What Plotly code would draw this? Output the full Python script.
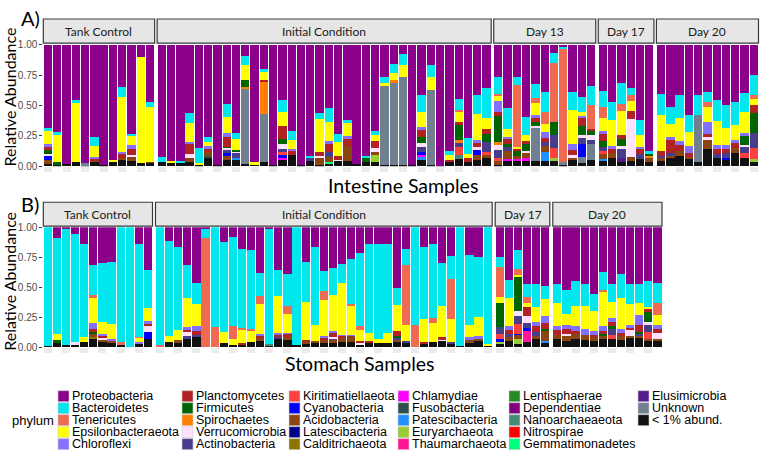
import plotly.graph_objects as go

W, H = 760, 455

# ---------------- phyla (legend order = top of stack first) ----------------
PHYLA = ["Proteobacteria", "Bacteroidetes", "Tenericutes", "Epsilonbacteraeota", "Chloroflexi",
         "Planctomycetes", "Firmicutes", "Spirochaetes", "Verrucomicrobia", "Actinobacteria",
         "Kiritimatiellaeota", "Cyanobacteria", "Acidobacteria", "Latescibacteria", "Calditrichaeota",
         "Chlamydiae", "Fusobacteria", "Patescibacteria", "Euryarchaeota", "Thaumarchaeota",
         "Lentisphaerae", "Dependentiae", "Nanoarchaeaeota", "Nitrospirae", "Gemmatimonadetes",
         "Elusimicrobia", "Unknown", "< 1% abund."]
CODES = ["Pro", "Bac", "Ten", "Eps", "Chl", "Pla", "Fir", "Spi", "Ver", "Act",
         "Kir", "Cya", "Aci", "Lat", "Cal", "Cly", "Fus", "Pat", "Eur", "Tha",
         "Len", "Dep", "Nan", "Nit", "Gem", "Elu", "Unk", "Low"]
COLORS = ["#8B008B", "#00E8EE", "#EE6A50", "#FFFF00", "#8470FF",
          "#B22222", "#006400", "#FF8000", "#FFE1FF", "#483D8B",
          "#FF4040", "#0000FF", "#8B4513", "#00008B", "#8B7500",
          "#FF00FF", "#2F4F4F", "#1E90FF", "#9ACD32", "#FF1493",
          "#228B22", "#800080", "#458B74", "#FF0000", "#00FF7F",
          "#551A8B", "#708090", "#111111"]

# ---------------- data: relative abundances per sample (Proteobacteria = remainder) ----------------
INT_TANK_CONTROL = [
    dict(Low=.02, Aci=.035, Cya=.036, Ver=.01, Fir=.03, Pla=.037, Chl=.015, Eps=.11, Bac=.024),
    dict(Low=.015, Fir=.02, Eps=.225, Bac=.02),
    dict(Low=.02),
    dict(Low=.035, Eps=.495, Bac=.015),
    dict(Low=.012, Unk=.013),
    dict(Low=.04, Aci=.005, Pla=.022, Chl=.008, Eps=.091, Bac=.075),
    dict(Low=.015),
    dict(Low=.035, Eps=.02),
    dict(Low=.054, Aci=.018, Pla=.035, Chl=.008, Eps=.456, Bac=.08),
    dict(Low=.046, Aci=.034, Pla=.046, Ver=.016, Chl=.032, Eps=.075, Bac=.019),
    dict(Low=.024, Eps=.874),
    dict(Low=.032, Aci=.008, Eps=.45, Bac=.038),
]
INT_INITIAL = [
    dict(Low=.035, Bac=.045),
    dict(Low=.035, Eps=.012),
    dict(Low=.03, Bac=.017),
    dict(Low=.04, Aci=.032, Ver=.028, Pla=.09, Chl=.01, Eps=.16, Bac=.077),
    dict(Low=.013, Eps=.014, Bac=.128),
    dict(Low=.072, Aci=.033, Fus=.015, Pla=.027, Chl=.022, Eps=.031, Bac=.041),
    dict(Low=.013),
    dict(Low=.054, Cya=.018, Aci=.035, Act=.027, Ver=.019, Fir=.008, Pla=.08, Chl=.032, Eps=.137, Bac=.099),
    dict(Low=.054, Pat=.013, Act=.048, Ver=.011, Fir=.008, Eps=.089, Bac=.05),
    dict(Low=.019, Unk=.619, Spi=.019, Fir=.053, Eps=.126, Bac=.07),
    dict(Low=.019, Eps=.013),
    dict(Low=.04, Unk=.389, Spi=.268, Pla=.013, Eps=.073, Bac=.016),
    dict(Low=.013),
    dict(Low=.054, Cly=.013, Act=.027, Cya=.026, Kir=.027, Ver=.033, Fir=.043, Pla=.107, Eps=.12, Bac=.1),
    dict(Low=.094, Pla=.04, Chl=.013, Eps=.067, Bac=.073),
    dict(Low=.013),
    dict(Low=.046, Act=.021, Bac=.021),
    dict(Low=.013, Aci=.062, Ver=.013, Pla=.032, Eps=.269, Bac=.053),
    dict(Low=.027, Gem=.013, Aci=.04, Act=.035, Pla=.073, Chl=.021, Eps=.158, Bac=.116),
    dict(Low=.046, Ver=.008, Pla=.034, Eps=.112, Bac=.068),
    dict(Low=.046, Aci=.123, Pla=.059, Chl=.019, Eps=.107, Bac=.029),
    dict(Low=.019),
    dict(Low=.04, Fir=.027, Bac=.021),
    dict(Low=.04, Eur=.059, Aci=.016, Ver=.038, Pla=.056, Eps=.046, Bac=.032),
    dict(Low=.013, Unk=.652, Eps=.024, Bac=.048),
    dict(Low=.013, Unk=.671, Spi=.026, Eps=.054, Bac=.075),
    dict(Low=.013, Unk=.724, Eps=.099, Bac=.089),
    dict(Low=.013),
    dict(Low=.054, Cya=.026, Pat=.019, Cly=.022, Act=.04, Ver=.032, Fir=.048, Pla=.062, Chl=.019, Eps=.128, Bac=.14),
    dict(Low=.013, Unk=.617, Eps=.107, Bac=.094),
    dict(Low=.005),
    dict(Low=.035, Pla=.019, Eps=.04, Bac=.032),
    dict(Low=.059, Nan=.035, Kir=.067, Act=.04, Spi=.013, Fir=.134, Pla=.014, Eps=.088, Ten=.014, Bac=.091),
    dict(Low=.04, Pla=.027, Eps=.032, Bac=.134),
    dict(Low=.054, Aci=.04, Cya=.048, Ver=.014, Pla=.04, Chl=.018, Eps=.22, Bac=.156),
    dict(Low=.067, Aci=.027, Kir=.027, Act=.08, Fir=.062, Pla=.045, Eps=.094, Bac=.241),
]
INT_DAY13 = [
    dict(Low=.01, Aci=.041, Kir=.016, Act=.064, Ver=.054, Spi=.016, Fir=.212, Pla=.035, Chl=.086, Eps=.042, Ten=.019, Bac=.14),
    dict(Low=.051, Aci=.062, Cly=.013, Act=.032, Fir=.022, Pla=.053, Chl=.011, Eps=.064, Bac=.172),
    dict(Low=.046, Aci=.026, Cly=.014, Fir=.04, Pla=.021, Eps=.011, Ten=.512, Bac=.067),
    dict(Low=.051, Aci=.048, Cly=.014, Ver=.013, Fir=.054, Pla=.032, Eps=.043, Bac=.153),
    dict(Low=.046, Unk=.278, Ver=.011, Fir=.032, Pla=.027, Chl=.032, Eps=.097, Ten=.037, Bac=.116),
    dict(Low=.046, Pat=.075, Aci=.048, Act=.032, Pla=.032, Chl=.048, Eps=.065, Ten=.102, Bac=.166),
    dict(Low=.051, Eur=.016, Kir=.086, Act=.102, Fir=.107, Ten=.488, Bac=.086),
    dict(Low=.013, Unk=.019, Ten=.938, Bac=.014),
    dict(Low=.051, Aci=.027, Ver=.016, Pla=.037, Chl=.049, Eps=.281, Bac=.153),
    dict(Low=.03, Unk=.05, Cya=.1, Act=.06, Ver=.015, Fir=.08, Pla=.06, Chl=.02, Eps=.03, Bac=.125),
    dict(Low=.051, Unk=.129, Act=.04, Ver=.04, Fir=.027, Pla=.021, Ten=.199, Bac=.155),
]
INT_DAY17 = [
    dict(Low=.046, Pat=.013, Aci=.04, Kir=.027, Act=.032, Fir=.048, Pla=.059, Chl=.022, Eps=.107, Ten=.094, Bac=.134),
    dict(Low=.072, Aci=.041, Pla=.026, Chl=.027, Eps=.215, Bac=.147),
    dict(Low=.032, Elu=.04, Act=.067, Ver=.027, Fir=.059, Pla=.035, Eps=.193, Ten=.062, Bac=.169),
    dict(Low=.046, Aci=.032, Ver=.308, Pla=.067, Eps=.081, Ten=.053, Bac=.054),
    dict(Low=.059, Act=.04, Pla=.04, Chl=.019, Eps=.097, Bac=.126),
    dict(Low=.04, Aci=.027, Spi=.019, Fir=.019, Bac=.021),
]
INT_DAY20 = [
    dict(Low=.046, Aci=.026, Act=.014, Pla=.04, Eps=.3, Bac=.169),
    dict(Low=.072, Aci=.014, Act=.027, Pla=.107, Chl=.021, Eps=.108, Bac=.139),
    dict(Low=.086, Aci=.04, Pla=.048, Chl=.038, Eps=.188, Bac=.187),
    dict(Low=.059, Aci=.019, Pla=.035, Chl=.053, Eps=.116, Bac=.139),
    dict(Low=.032, Unk=.389, Bac=.166),
    dict(Low=.139, Aci=.086, Ver=.014, Pla=.029, Chl=.099, Eps=.121, Ten=.04, Bac=.081),
    dict(Low=.072, Act=.033, Pla=.034, Chl=.035, Eps=.199, Bac=.177),
    dict(Low=.051, Cya=.021, Act=.041, Pla=.032, Chl=.029, Eps=.145, Bac=.188),
    dict(Low=.113, Aci=.04, Pla=.04, Chl=.027, Eps=.12, Bac=.188),
    dict(Low=.067, Kir=.046, Act=.054, Ver=.011, Fir=.075, Chl=.022, Eps=.171, Bac=.156),
    dict(Low=.04, Eur=.019, Kir=.094, Act=.12, Fir=.169, Pla=.059, Eps=.054, Ten=.032, Bac=.161),
]
STO_TANK_CONTROL = [
    dict(Low=.014, Bac=.986),
    dict(Low=.033, Fir=.027, Eps=.049, Bac=.801),
    dict(Low=.02, Bac=.964),
    dict(Low=.019, Ver=.022, Bac=.905),
    dict(Low=.041, Eps=.049, Bac=.771),
    dict(Low=.068, Cal=.02, Aci=.021, Fir=.019, Pla=.021, Chl=.055, Eps=.209, Ten=.022, Bac=.253),
    dict(Low=.046, Aci=.02, Ver=.01, Chl=.01, Pla=.023, Eps=.105, Bac=.49),
    dict(Low=.04, Aci=.014, Chl=.014, Eps=.128, Bac=.511),
    dict(Low=.019, Ten=.022, Bac=.959),
    dict(Low=.005, Bac=.995),
    dict(Low=.033, Chl=.008, Eps=.041, Ten=.008, Bac=.771),
    dict(Low=.073, Cya=.055, Ver=.049, Pla=.021, Chl=.019, Eps=.109, Bac=.321),
]
STO_INITIAL = [
    dict(Ten=.019, Bac=.981),
    dict(Low=.043, Eps=.055, Bac=.791),
    dict(Low=.038, Aci=.022, Eps=.087, Bac=.693),
    dict(Low=.071, Act=.021, Ver=.033, Pla=.022, Chl=.021, Eps=.242, Bac=.275),
    dict(Low=.087, Act=.019, Pla=.033, Chl=.035, Eps=.19, Bac=.169),
    dict(Low=.004, Ten=.909, Bac=.071),
    dict(Ten=.168, Bac=.832),
    dict(Low=.033, Eps=.092, Bac=.755),
    dict(Low=.022, Eps=.051, Ten=.101, Bac=.747),
    dict(Low=.024, Pla=.014, Eps=.109, Ten=.013, Bac=.661),
    dict(Low=.043, Eps=.09, Ten=.019, Bac=.658),
    dict(Low=.052, Aci=.027, Pla=.019, Chl=.016, Eps=.25, Ten=.065, Bac=.188),
    dict(Low=.016, Nan=.008, Bac=.96),
    dict(Low=.071, Act=.016, Pla=.016, Chl=.017, Eps=.304, Bac=.22),
    dict(Low=.065, Aci=.022, Pla=.025, Chl=.008, Eps=.157, Ten=.065, Bac=.267),
    dict(Low=.022, Bac=.978),
    dict(Low=.027, Aci=.016, Pla=.017, Eps=.318, Bac=.334),
    dict(Low=.033, Aci=.019, Eps=.136, Bac=.649),
    dict(Low=.038, Aci=.022, Pla=.019, Chl=.019, Eps=.299, Ten=.076, Bac=.163),
    dict(Low=.038, Aci=.022, Act=.013, Ver=.014, Pla=.033, Chl=.019, Eps=.301, Bac=.223),
    dict(Low=.043, Aci=.033, Pla=.016, Chl=.014, Eps=.429, Bac=.161),
    dict(Low=.043, Aci=.049, Chl=.014, Eps=.242, Ten=.016, Bac=.375),
    dict(Low=.022, Ver=.011, Pla=.019, Eps=.089, Ten=.038, Bac=.606),
    dict(Low=.038, Pla=.014, Eps=.068, Bac=.741),
    dict(Low=.038, Eps=.033, Bac=.79),
    dict(Low=.038, Eps=.082, Bac=.741),
    dict(Low=.043, Aci=.017, Act=.019, Fir=.013, Pla=.047, Eps=.212, Bac=.144),
    dict(Low=.038, Act=.014, Eps=.136, Ten=.502, Bac=.131),
    dict(Ten=.1875, Bac=.8125),
    dict(Low=.027, Pla=.016, Eps=.193, Bac=.598),
    dict(Low=.043, Eps=.158, Ten=.046, Bac=.614),
    dict(Low=.052, Ver=.013, Pla=.022, Eps=.255, Bac=.362),
    dict(Low=.033, Act=.01, Eps=.193, Ten=.337, Bac=.191),
    dict(Low=.011, Bac=.989),
    dict(Low=.038, Aci=.022, Chl=.024, Eps=.101, Bac=.581),
    dict(Low=.049, Aci=.022, Chl=.027, Eps=.157, Bac=.498),
    dict(Low=.016, Eps=.008, Bac=.976),
]
STO_DAY17 = [
    dict(Low=.027, Eur=.019, Cya=.022, Kir=.041, Act=.059, Fir=.204, Eps=.044, Ten=.255, Bac=.082),
    dict(Low=.054, Aci=.033, Act=.022, Pla=.032, Chl=.036, Eps=.231, Bac=.149),
    dict(Low=.027, Eur=.041, Aci=.032, Cya=.014, Kir=.084, Act=.066, Ver=.04, Fir=.286, Eps=.013, Ten=.049, Bac=.155),
    dict(Low=.041, Tha=.095, Cya=.027, Act=.041, Ver=.06, Pla=.076, Eps=.032, Ten=.049, Bac=.103),
    dict(Low=.068, Aci=.027, Act=.033, Pla=.049, Chl=.032, Eps=.131, Bac=.19),
    dict(Low=.041, Pat=.013, Aci=.082, Fir=.013, Pla=.055, Chl=.054, Eps=.142, Bac=.108),
]
STO_DAY20 = [
    dict(Low=.068, Aci=.033, Pla=.043, Chl=.033, Eps=.195, Bac=.158),
    dict(Low=.054, Aci=.041, Ver=.014, Pla=.04, Chl=.033, Eps=.095, Bac=.199),
    dict(Low=.068, Aci=.041, Pla=.027, Chl=.041, Eps=.171, Bac=.204),
    dict(Low=.06, Aci=.041, Chl=.054, Eps=.19, Bac=.185),
    dict(Low=.054, Aci=.036, Pla=.011, Chl=.035, Eps=.163, Bac=.149),
    dict(Low=.068, Aci=.027, Fir=.014, Pla=.027, Chl=.041, Eps=.282, Ten=.022, Bac=.149),
    dict(Low=.068, Kir=.033, Act=.048, Fir=.03, Pla=.03, Chl=.036, Eps=.13, Bac=.149),
    dict(Low=.063, Aci=.032, Pla=.027, Chl=.027, Eps=.264, Bac=.198),
    dict(Low=.075, Aci=.02, Ver=.046, Pla=.022, Chl=.027, Eps=.169, Bac=.165),
    dict(Low=.08, Aci=.015, Act=.014, Fir=.019, Pla=.062, Chl=.082, Eps=.095, Bac=.163),
    dict(Low=.054, Aci=.014, Kir=.06, Act=.062, Ver=.019, Fir=.082, Pla=.027, Eps=.022, Bac=.209),
    dict(Low=.054, Aci=.019, Ver=.049, Pla=.027, Chl=.041, Eps=.082, Ten=.1, Bac=.163),
]

Y_TICKS = [0, 0.25, 0.5, 0.75, 1.0]
Y_TICK_TEXT = ["0.00", "0.25", "0.50", "0.75", "1.00"]

# ---------------- layout geometry (pixels) ----------------
PANELS = [
    dict(label="A)", title="Intestine Samples",
         facets=[("Tank Control", INT_TANK_CONTROL), ("Initial Condition", INT_INITIAL),
                 ("Day 13", INT_DAY13), ("Day 17", INT_DAY17), ("Day 20", INT_DAY20)],
         left=43.3, right=758.5, gap=2.5, ytop=40.7, ybot=165.0, strip=(14.3, 39.0),
         label_xy=(30.5, 13.0), ytitle_y=94.0, title_xy=(403.0, 184.5)),
    dict(label="B)", title="Stomach Samples",
         facets=[("Tank Control", STO_TANK_CONTROL), ("Initial Condition", STO_INITIAL),
                 ("Day 17", STO_DAY17), ("Day 20", STO_DAY20)],
         left=43.3, right=662.0, gap=3.0, ytop=227.3, ybot=350.0, strip=(201.7, 226.0),
         label_xy=(30.0, 203.0), ytitle_y=282.5, title_xy=(360.0, 367.0)),
]

LABEL_FONT = "Lato"
SANS = "Liberation Sans"


def fx(p):
    return p / W


def fy(p):
    return 1 - p / H


fig = go.Figure()
layout = dict(width=W, height=H, autosize=False, margin=dict(l=0, r=0, t=0, b=0),
              paper_bgcolor="white", plot_bgcolor="rgba(0,0,0,0)", showlegend=False,
              barmode="stack", bargap=0.1)
shapes, annotations = [], []

ax = 0
for pi, panel in enumerate(PANELS):
    yname = "y" if pi == 0 else "y%d" % (pi + 1)
    ykey = "yaxis" if pi == 0 else "yaxis%d" % (pi + 1)
    nbars = sum(len(f[1]) for f in panel["facets"])
    nf = len(panel["facets"])
    bw = (panel["right"] - panel["left"] - (nf - 1) * panel["gap"]) / nbars
    x = panel["left"]
    first_x = None
    for fname, samples in panel["facets"]:
        ax += 1
        xname = "x" if ax == 1 else "x%d" % ax
        xkey = "xaxis" if ax == 1 else "xaxis%d" % ax
        if first_x is None:
            first_x = xname
        x0, x1 = x, x + bw * len(samples)
        x = x1 + panel["gap"]
        cats = ["%s-%s-%d" % (panel["label"], fname, i + 1) for i in range(len(samples))]
        for code, name, color in reversed(list(zip(CODES, PHYLA, COLORS))):
            if code == "Pro":
                vals = [max(0.0, round(1 - sum(s.values()), 4)) for s in samples]
            else:
                vals = [s.get(code, 0.0) for s in samples]
            if not any(vals):
                continue
            fig.add_trace(go.Bar(x=cats, y=vals, name=name, marker=dict(color=color, line=dict(width=0)),
                                 xaxis=xname, yaxis=yname, showlegend=False,
                                 hovertemplate=name + ": %{y:.3f}<extra></extra>"))
        layout[xkey] = dict(domain=[fx(x0), fx(x1)], anchor=yname, type="category",
                            categoryorder="array", categoryarray=cats,
                            range=[-0.5, len(samples) - 0.5], showticklabels=False,
                            ticks="outside", ticklen=5, tickwidth=8, tickcolor="#ebebeb",
                            showgrid=False, zeroline=False, showline=False, fixedrange=True)
        # facet strip
        shapes.append(dict(type="rect", xref="%s domain" % xname, yref="paper",
                           x0=0, x1=1, y0=fy(panel["strip"][1]), y1=fy(panel["strip"][0]),
                           fillcolor="#e6e6e6", line=dict(color="#3a3a3a", width=1.2), layer="above"))
        annotations.append(dict(text=fname, xref="%s domain" % xname, yref="paper", x=0.5,
                                y=fy((panel["strip"][0] + panel["strip"][1]) / 2),
                                xanchor="center", yanchor="middle", showarrow=False,
                                font=dict(family=LABEL_FONT, size=12, color="#1a1a1a")))
    layout[ykey] = dict(domain=[fy(panel["ybot"]), fy(panel["ytop"])], anchor=first_x,
                        range=[0, 1], tickvals=Y_TICKS, ticktext=Y_TICK_TEXT,
                        ticks="outside", ticklen=3, tickwidth=1, tickcolor="#333333",
                        tickfont=dict(family=SANS, size=10, color="#4d4d4d"),
                        showgrid=False, zeroline=False, showline=False, fixedrange=True)
    annotations.append(dict(text=panel["label"], xref="paper", yref="paper",
                            x=fx(panel["label_xy"][0]), y=fy(panel["label_xy"][1]),
                            xanchor="center", yanchor="middle", showarrow=False,
                            font=dict(family=LABEL_FONT, size=20, color="black")))
    annotations.append(dict(text="Relative Abundance", xref="paper", yref="paper",
                            x=fx(9.5), y=fy(panel["ytitle_y"]), textangle=-90,
                            xanchor="center", yanchor="middle", showarrow=False,
                            font=dict(family=LABEL_FONT, size=16, color="black")))
    annotations.append(dict(text=panel["title"], xref="paper", yref="paper",
                            x=fx(panel["title_xy"][0]), y=fy(panel["title_xy"][1]),
                            xanchor="center", yanchor="middle", showarrow=False,
                            font=dict(family=LABEL_FONT, size=19.5, color="black")))

# ---------------- legend (drawn on a pixel-space helper axis below the panels) ----------------
LEG_TOP, LEG_BOT = 388.0, 455.0
LEG_COL_LEFT = [58, 182, 289, 398, 509, 638]
LEG_ROW_Y = [400.0, 412.25, 424.5, 436.75, 449.0]
SW = 11
leg_x, leg_y = [], []
for i, (name, color) in enumerate(zip(PHYLA, COLORS)):
    c, r = divmod(i, 5)
    leg_x.append(LEG_COL_LEFT[c] + SW / 2)
    leg_y.append(LEG_ROW_Y[r])
    annotations.append(dict(text=name.replace("<", "&lt;"), xref="x99", yref="y99",
                            x=LEG_COL_LEFT[c] + SW + 2.0, y=LEG_ROW_Y[r],
                            xanchor="left", yanchor="middle", showarrow=False, borderpad=0,
                            font=dict(family=SANS, size=12.5, color="black")))
fig.add_trace(go.Scatter(x=leg_x, y=leg_y, mode="markers", xaxis="x99", yaxis="y99",
                         marker=dict(symbol="square", size=SW, color=COLORS,
                                     line=dict(width=0.6, color="#d0d0d0")),
                         hoverinfo="skip", showlegend=False, cliponaxis=False))
layout["xaxis99"] = dict(domain=[0, 1], range=[0, W], visible=False, anchor="y99", fixedrange=True)
layout["yaxis99"] = dict(domain=[fy(LEG_BOT), fy(LEG_TOP)], range=[LEG_BOT, LEG_TOP], visible=False,
                         anchor="x99", fixedrange=True)
annotations.append(dict(text="phylum", xref="paper", yref="paper", x=fx(10), y=fy(424.5),
                        xanchor="left", yanchor="middle", showarrow=False,
                        font=dict(family=SANS, size=13, color="black")))

layout["shapes"] = shapes
layout["annotations"] = annotations
fig.update_layout(**layout)
fig.write_html("out.html", config={"displayModeBar": False},
               post_script="document.body.style.margin='0px';document.body.style.overflow='hidden';")
